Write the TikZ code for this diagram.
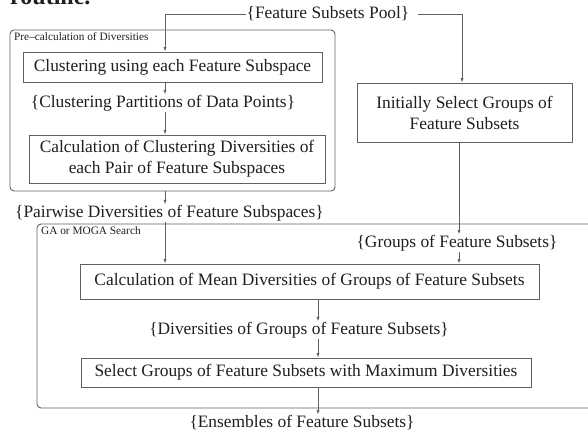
\documentclass[tikz,border=0pt]{standalone}
\usepackage{fontspec}
\setmainfont{Liberation Serif}
\usetikzlibrary{arrows.meta}
\tikzset{
  lbl/.style={font=\fontsize{17.4}{21}\selectfont, inner sep=0.5pt, text=black!88},
  box/.style={draw=black!62, line width=0.9pt, inner sep=0pt, align=center,
              font=\fontsize{17.4}{21}\selectfont, text=black!88},
  grp/.style={draw=black!62, line width=0.9pt, rounded corners=4pt},
  tag/.style={font=\fontsize{11.3}{13}\selectfont, inner sep=0pt, anchor=west, text=black!88},
  ln/.style={draw=black!62, line width=0.8pt},
  arr/.style={ln, -{Latex[length=4.5pt,width=3.2pt]}}
}
\begin{document}
\begin{tikzpicture}[x=1pt,y=-1pt]
\useasboundingbox (0,0) rectangle (588,432);
\fill[white] (0,0) rectangle (588,432);
% cut-off page text at the very top
\node[anchor=base west, inner sep=0pt, font=\bfseries\fontsize{24}{28}\selectfont, text=black!88] (rt) at (10,4) {routine.};

% column references
\coordinate (cA) at (165,0);
\coordinate (cB) at (459,0);
\coordinate (cC) at (318,0);

% groups
\node[grp, minimum width=325pt, minimum height=161pt, inner sep=0pt] (pre) at (172.5,110.5) {};
\node[tag] (pretag) at (14,37) {Pre--calculation of Diversities};
\draw[grp] (592,224) -- (37,224) -- (37,408) -- (592,408);
\node[tag] (gatag) at (41,231) {GA or MOGA Search};

% texts and boxes
\node[lbl] (pool) at (328,14) {\{Feature Subsets Pool\}};
\node[box, minimum width=299pt, minimum height=30pt] (clust) at (172.5,67) {Clustering using each Feature Subspace};
\node[lbl] (part) at (163,103) {\{Clustering Partitions of Data Points\}};
\node[box, minimum width=296pt, minimum height=48pt] (calc) at (177,159) {Calculation of Clustering Diversities of\\each Pair of Feature Subspaces};
\node[lbl] (pair) at (169.5,213) {\{Pairwise Diversities of Feature Subspaces\}};
\node[box, minimum width=215pt, minimum height=59pt] (init) at (464.5,112.5) {Initially Select Groups of\\Feature Subsets};
\node[lbl] (grps) at (457,243) {\{Groups of Feature Subsets\}};
\node[box, minimum width=459pt, minimum height=35pt] (mean) at (309.5,281.5) {Calculation of Mean Diversities of Groups of Feature Subsets};
\node[lbl] (divs) at (299,330) {\{Diversities of Groups of Feature Subsets\}};
\node[box, minimum width=450pt, minimum height=29pt] (sel) at (306,372.5) {Select Groups of Feature Subsets with Maximum Diversities};
\node[lbl] (ens) at (302,422.5) {\{Ensembles of Feature Subsets\}};

% connectors
\draw[arr] (pool.west) -| (clust.north -| cA);
\draw[arr] ([xshift=8pt]pool.east) -| ([xshift=-2.5pt]init.north);
\draw[arr] (clust.south -| cA) -- (part.north -| cA);
\draw[arr] (part.south -| cA) -- (calc.north -| cA);
\draw[arr] (pre.south -| cA) -- (pair.north -| cA);
\draw[arr] (pair.south -| cA) -- (mean.north -| cA);
\draw[arr] (init.south -| cB) -- (grps.north -| cB);
\draw[arr] (grps.south -| cB) -- (mean.north -| cB);
\draw[arr] (mean.south -| cC) -- (divs.north -| cC);
\draw[arr] (divs.south -| cC) -- (sel.north -| cC);
\draw[arr] (sel.south -| cC) -- (ens.north -| cC);
\end{tikzpicture}
\end{document}
